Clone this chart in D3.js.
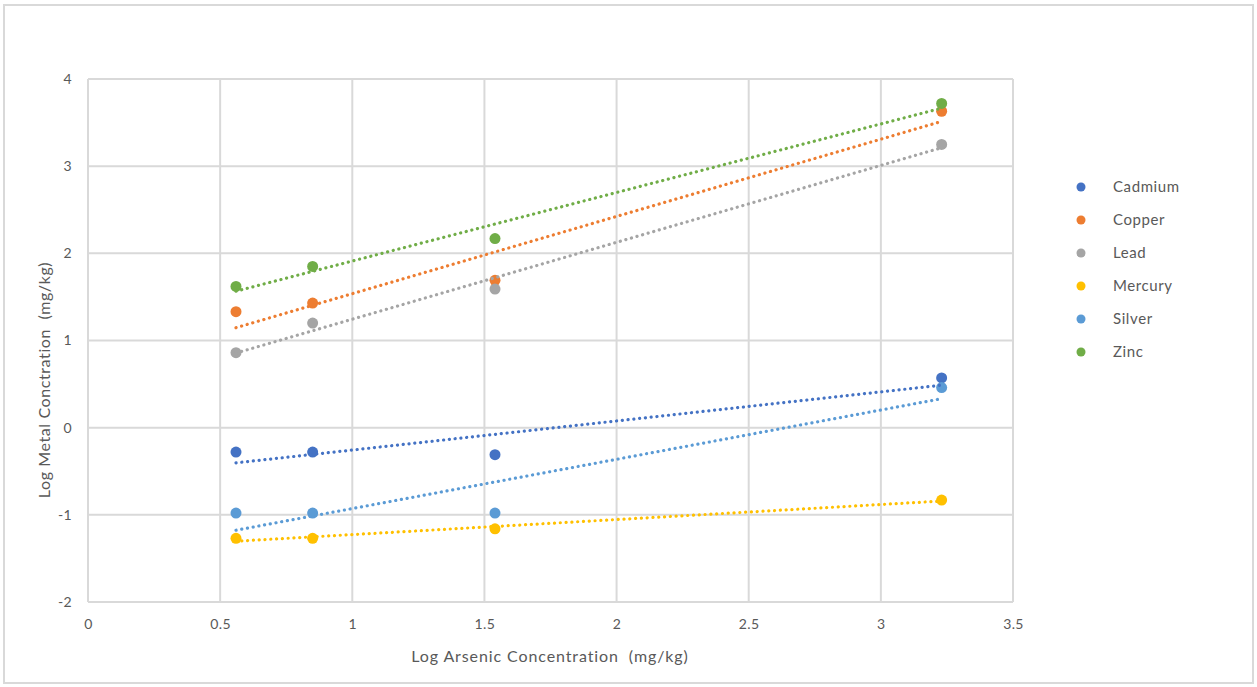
<!DOCTYPE html>
<html>
<head>
<meta charset="utf-8">
<script src="https://cdn.jsdelivr.net/npm/d3@7"></script>
<style>
  body { margin: 0; background: #fff; }
  #chart { width: 1257px; height: 687px; }
  text { font-family: Lato, "Open Sans", sans-serif; fill: #595959; white-space: pre; }
</style>
</head>
<body>
<div id="chart"></div>
<script>
// Data
const metals = ["Cadmium", "Copper", "Lead", "Mercury", "Silver", "Zinc"];
const colors = ["#4472C4", "#ED7D31", "#A5A5A5", "#FFC000", "#5B9BD5", "#70AD47"];
const arsenicLog = [0.56, 0.85, 1.54, 3.23];
const cadmium = [-0.28, -0.28, -0.31, 0.57];
const copper = [1.33, 1.43, 1.69, 3.63];
const lead = [0.86, 1.20, 1.59, 3.25];
const mercury = [-1.27, -1.27, -1.16, -0.83];
const silver = [-0.98, -0.98, -0.98, 0.46];
const zinc = [1.62, 1.85, 2.17, 3.72];
const xTicks = [0, 0.5, 1, 1.5, 2, 2.5, 3, 3.5];
const yTicks = [-2, -1, 0, 1, 2, 3, 4];

(function () {
  const W = 1257, H = 687;
  const margin = { top: 79, right: 244, bottom: 85, left: 88 };
  const width = W - margin.left - margin.right;
  const height = H - margin.top - margin.bottom;

  const svgRoot = d3.select("#chart").append("svg")
    .attr("width", W).attr("height", H);

  // outer chart border
  svgRoot.append("rect")
    .attr("x", 4).attr("y", 5).attr("width", W - 8).attr("height", H - 9)
    .attr("fill", "#fff").attr("stroke", "#d9d9d9").attr("stroke-width", 2);

  const svg = svgRoot.append("g")
    .attr("transform", `translate(${margin.left},${margin.top})`);

  const x = d3.scaleLinear().domain([0, 3.5]).range([0, width]);
  const y = d3.scaleLinear().domain([-2, 4]).range([height, 0]);

  // gridlines
  svg.append("g").selectAll("line").data(yTicks).join("line")
    .attr("x1", 0).attr("x2", width)
    .attr("y1", d => y(d)).attr("y2", d => y(d))
    .attr("stroke", "#d9d9d9").attr("stroke-width", 2);
  svg.append("g").selectAll("line").data(xTicks).join("line")
    .attr("y1", 0).attr("y2", height)
    .attr("x1", d => x(d)).attr("x2", d => x(d))
    .attr("stroke", "#d9d9d9").attr("stroke-width", 2);

  // axes (labels only)
  const xAxis = svg.append("g")
    .attr("transform", `translate(0,${height})`)
    .call(d3.axisBottom(x).tickValues(xTicks).tickSize(0).tickPadding(17).tickFormat(d => String(d)));
  const yAxis = svg.append("g")
    .call(d3.axisLeft(y).tickValues(yTicks).tickSize(0).tickPadding(16).tickFormat(d => String(d)));
  [xAxis, yAxis].forEach(a => {
    a.select(".domain").remove();
    a.selectAll("text").attr("font-size", 14).style("font-family", "Lato, sans-serif")
      .style("letter-spacing", "0.4px").attr("fill", "#595959");
  });

  const seriesValues = [cadmium, copper, lead, mercury, silver, zinc];
  const series = metals.map((name, i) => ({
    name,
    color: colors[i],
    points: arsenicLog.map((xv, j) => ({ x: xv, y: seriesValues[i][j] }))
  }));

  // linear trendlines (least squares), from min x to max x
  series.forEach(s => {
    const mx = d3.mean(s.points, p => p.x), my = d3.mean(s.points, p => p.y);
    const sxy = d3.sum(s.points, p => (p.x - mx) * (p.y - my));
    const sxx = d3.sum(s.points, p => (p.x - mx) ** 2);
    const b = sxy / sxx, a = my - b * mx;
    const [x0, x1] = d3.extent(s.points, p => p.x);
    s.trend = [{ x: x0, y: a + b * x0 }, { x: x1, y: a + b * x1 }];
  });

  const line = d3.line().x(d => x(d.x)).y(d => y(d.y));

  // markers
  series.forEach(s => {
    svg.append("g").selectAll("circle").data(s.points).join("circle")
      .attr("cx", d => x(d.x)).attr("cy", d => y(d.y)).attr("r", 5.5)
      .attr("fill", s.color);
  });

  // trendlines on top
  series.forEach(s => {
    svg.append("path").datum(s.trend)
      .attr("d", line)
      .attr("fill", "none")
      .attr("stroke", s.color)
      .attr("stroke-width", 3.2)
      .attr("stroke-linecap", "round")
      .attr("stroke-dasharray", "0.1 5.7");
  });

  // axis titles
  svgRoot.append("text")
    .attr("x", 550).attr("y", 662)
    .attr("text-anchor", "middle").attr("font-size", 16)
    .style("letter-spacing", "0.9px")
    .text("Log Arsenic Concentration  (mg/kg)");
  svgRoot.append("text")
    .attr("transform", "translate(50,380) rotate(-90)")
    .attr("text-anchor", "middle").attr("font-size", 16)
    .style("letter-spacing", "0.6px")
    .text("Log Metal Conctration  (mg/kg)");

  // legend
  const legend = svgRoot.append("g").attr("transform", "translate(1081,187)");
  const item = legend.selectAll("g").data(series).join("g")
    .attr("transform", (d, i) => `translate(0,${i * 33})`);
  item.append("circle").attr("r", 4.5).attr("fill", d => d.color);
  item.append("text").attr("x", 32).attr("dy", "0.35em")
    .attr("font-size", 15).style("letter-spacing", "0.6px").text(d => d.name);
})();
</script>
</body>
</html>
